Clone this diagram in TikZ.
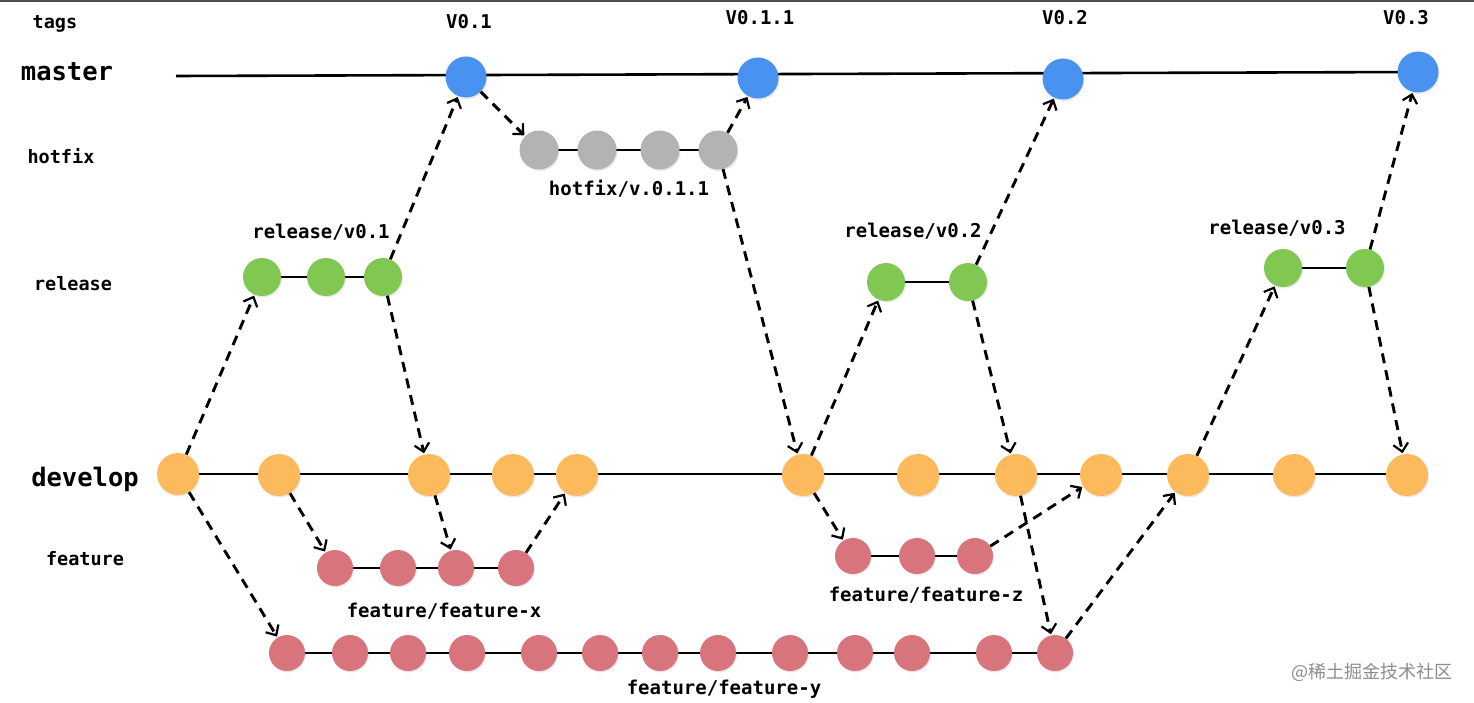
\documentclass[tikz,border=0pt]{standalone}
\usepackage{fontspec}
\setmonofont{DejaVu Sans Mono}
\newfontfamily\cjkfont{Noto Sans CJK SC}
\usetikzlibrary{arrows.meta,shadows}
\definecolor{cblue}{RGB}{74,146,240}
\definecolor{cgray}{RGB}{178,180,178}
\definecolor{cgreen}{RGB}{128,200,82}
\definecolor{corange}{RGB}{253,186,92}
\definecolor{cred}{RGB}{216,116,124}
\begin{document}
\begin{tikzpicture}[x=1pt,y=-1pt,
  commit/.style={circle, inner sep=0pt, draw=none,
    drop shadow={opacity=0.18, shadow xshift=1pt, shadow yshift=-1.5pt}},
  mc/.style={commit, fill=cblue, minimum size=41pt},
  hc/.style={commit, fill=cgray, minimum size=39pt},
  rc/.style={commit, fill=cgreen, minimum size=38pt},
  dc/.style={commit, fill=corange, minimum size=42pt},
  fc/.style={commit, fill=cred, minimum size=36pt},
  branch/.style={line width=2.6pt, black},
  rowbig/.style={font=\ttfamily\bfseries\fontsize{25.5}{26}\selectfont, inner sep=0pt},
  rowlbl/.style={font=\ttfamily\bfseries\fontsize{18.5}{19}\selectfont, inner sep=0pt},
  lbl/.style={font=\ttfamily\bfseries\fontsize{19}{19}\selectfont, inner sep=0pt},
  flow/.style={draw, line width=2.9pt, dash pattern=on 10pt off 7pt,
    -{Straight Barb[length=8pt,width=15pt,line width=2.2pt]}, shorten >=1pt}
]
\useasboundingbox (0,0) rectangle (1474,703);
\fill[black!70] (0,0) rectangle (1474,2);

% row labels
\node[rowlbl] (ltags) at (55,24) {tags};
\node[rowbig] (lmaster) at (67,72) {master};
\node[rowlbl] (lhotfix) at (61,156) {hotfix};
\node[rowlbl] (lrelease) at (73,284) {release};
\node[rowbig] (ldevelop) at (85,479) {develop};
\node[rowlbl] (lfeature) at (85,559) {feature};

% tags
\node[lbl] (t1) at (469,22) {V0.1};
\node[lbl] (t2) at (760,18) {V0.1.1};
\node[lbl] (t3) at (1065,18) {V0.2};
\node[lbl] (t4) at (1406,18) {V0.3};

% branch labels
\node[lbl] (lhf) at (629,189) {hotfix/v.0.1.1};
\node[lbl] (lr1) at (321,232) {release/v0.1};
\node[lbl] (lr2) at (913,231) {release/v0.2};
\node[lbl] (lr3) at (1277,228) {release/v0.3};
\node[lbl] (lfx) at (444,611) {feature/feature-x};
\node[lbl] (lfz) at (926,595) {feature/feature-z};
\node[lbl] (lfy) at (724,689) {feature/feature-y};

% master line ends
\coordinate (mstart) at (176,76);
\coordinate (m3c) at (1418,72);
\draw[branch] (mstart) -- (m3c);
\draw[branch] (539,150) -- (718,150);
\draw[branch] (262,277) -- (383,277);
\draw[branch] (886,282) -- (968,282);
\draw[branch] (1283,268) -- (1365,268);
\draw[branch] (178,474) -- (1407,474);
\draw[branch] (335,568) -- (516,568);
\draw[branch] (853,556) -- (975,556);
\draw[branch] (287,653) -- (1055,653);

% master
\node[mc] (m0) at (466,77) {};
\node[mc] (m1) at (758,78) {};
\node[mc] (m2) at (1063,79) {};
\node[mc] (m3) at (1418,72) {};
% hotfix
\node[hc] (h0) at (539,150) {};
\node[hc] (h1) at (597,150) {};
\node[hc] (h2) at (660,150) {};
\node[hc] (h3) at (718,150) {};
% releases
\node[rc] (r10) at (262,277) {};
\node[rc] (r11) at (326,277) {};
\node[rc] (r12) at (383,277) {};
\node[rc] (r20) at (886,282) {};
\node[rc] (r21) at (968,282) {};
\node[rc] (r30) at (1283,268) {};
\node[rc] (r31) at (1365,268) {};
% develop
\node[dc] (d0) at (178,474) {};
\node[dc] (d1) at (279,475) {};
\node[dc] (d2) at (429,475) {};
\node[dc] (d3) at (513,475) {};
\node[dc] (d4) at (577,475) {};
\node[dc] (d5) at (803,475) {};
\node[dc] (d6) at (918,475) {};
\node[dc] (d7) at (1016,475) {};
\node[dc] (d8) at (1101,475) {};
\node[dc] (d9) at (1188,475) {};
\node[dc] (d10) at (1294,475) {};
\node[dc] (d11) at (1407,475) {};
% feature-x
\node[fc] (x0) at (335,568) {};
\node[fc] (x1) at (398,568) {};
\node[fc] (x2) at (456,568) {};
\node[fc] (x3) at (516,568) {};
% feature-z
\node[fc] (z0) at (853,556) {};
\node[fc] (z1) at (917,556) {};
\node[fc] (z2) at (975,556) {};
% feature-y
\node[fc] (y0) at (287,653) {};
\node[fc] (y1) at (350,653) {};
\node[fc] (y2) at (408,653) {};
\node[fc] (y3) at (467,653) {};
\node[fc] (y4) at (539,653) {};
\node[fc] (y5) at (600,653) {};
\node[fc] (y6) at (660,653) {};
\node[fc] (y7) at (718,653) {};
\node[fc] (y8) at (790,653) {};
\node[fc] (y9) at (855,653) {};
\node[fc] (y10) at (912,653) {};
\node[fc] (y11) at (994,653) {};
\node[fc] (y12) at (1055,653) {};

% flows
\path[flow] (d0) -- (r10);
\path[flow] (d0) -- (y0);
\path[flow] (r12) -- (d2);
\path[flow] (r12) -- (m0);
\path[flow] (d1) -- (x0);
\path[flow] (d2) -- (x2);
\path[flow] (x3) -- (d4);
\path[flow] (m0) -- (h0);
\path[flow] (h3) -- (m1);
\path[flow] (h3) -- (d5);
\path[flow] (d5) -- (r20);
\path[flow] (d5) -- (z0);
\path[flow] (r21) -- (m2);
\path[flow] (r21) -- (d7);
\path[flow] (z2) -- (d8);
\path[flow] (d7) -- (y12);
\path[flow] (y12) -- (d9);
\path[flow] (d9) -- (r30);
\path[flow] (r31) -- (m3);
\path[flow] (r31) -- (d11);

% watermark
\node[font=\cjkfont\fontsize{18}{18}\selectfont, text=black!45, inner sep=0pt] (wm) at (1372,672) {@稀土掘金技术社区};
\end{tikzpicture}
\end{document}
